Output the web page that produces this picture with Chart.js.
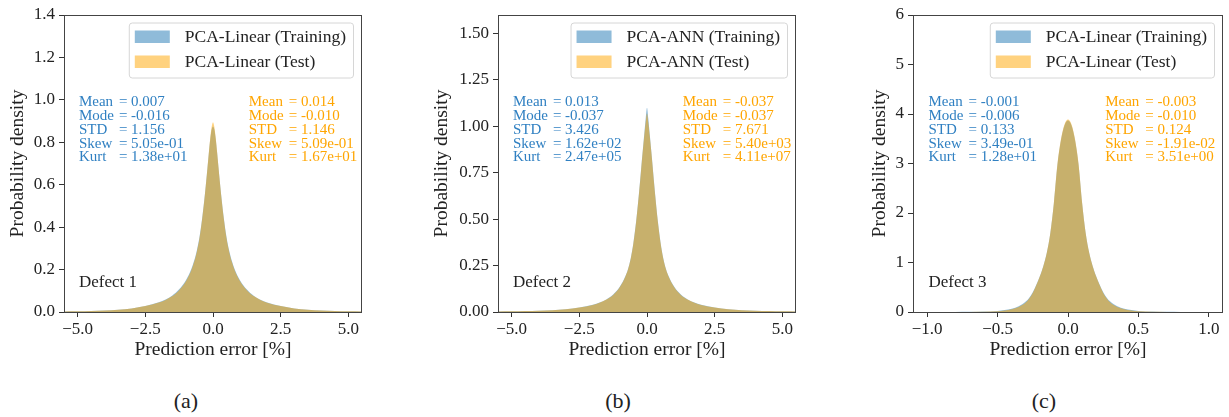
<!DOCTYPE html>
<html>
<head>
<meta charset="utf-8">
<script src="https://cdn.jsdelivr.net/npm/chart.js@4.4.0/dist/chart.umd.min.js"></script>
<style>
  body { margin: 0; background: #fff; width: 1229px; height: 417px; position: relative; overflow: hidden; font-family: 'Liberation Serif', serif; }
  canvas { position: absolute; top: 0; }
  .cap { position: absolute; top: 388px; width: 60px; margin-left: -30px; text-align: center; font-size: 22px; color: #222; }
</style>
</head>
<body>
<canvas id="chart-a" width="380" height="370" style="left:0"></canvas>
<canvas id="chart-b" width="400" height="370" style="left:420px"></canvas>
<canvas id="chart-c" width="369" height="370" style="left:860px"></canvas>
<div class="cap" style="left:186px">(a)</div>
<div class="cap" style="left:618px">(b)</div>
<div class="cap" style="left:1044px">(c)</div>
<script>
// Defect 1 - PCA-Linear
const errA = [-5.5, -5, -4.5, -4, -3.5, -3, -2.5, -2, -1.75, -1.5, -1.25, -1, -0.8, -0.7, -0.6, -0.5, -0.4, -0.3, -0.25, -0.2, -0.15, -0.1, -0.05, 0,
  0.05, 0.1, 0.15, 0.2, 0.25, 0.3, 0.4, 0.5, 0.6, 0.7, 0.8, 1, 1.25, 1.5, 1.75, 2, 2.5, 3, 3.5, 4, 4.5, 5, 5.5];
const trainA = [0.002, 0.003, 0.0045, 0.007, 0.011, 0.017, 0.028, 0.046, 0.059, 0.078, 0.107, 0.15, 0.203, 0.24, 0.288, 0.352, 0.442, 0.554, 0.618, 0.685, 0.753, 0.815, 0.86, 0.875,
  0.86, 0.815, 0.753, 0.685, 0.618, 0.554, 0.442, 0.352, 0.287, 0.239, 0.202, 0.149, 0.106, 0.077, 0.058, 0.045, 0.028, 0.017, 0.011, 0.007, 0.0045, 0.003, 0.002];
const testA = [0.002, 0.003, 0.0045, 0.007, 0.011, 0.017, 0.028, 0.045, 0.057, 0.075, 0.103, 0.145, 0.197, 0.234, 0.282, 0.346, 0.438, 0.552, 0.617, 0.686, 0.756, 0.822, 0.872, 0.895,
  0.872, 0.822, 0.756, 0.686, 0.617, 0.552, 0.438, 0.346, 0.282, 0.234, 0.197, 0.145, 0.103, 0.075, 0.057, 0.044, 0.028, 0.017, 0.011, 0.007, 0.0045, 0.003, 0.002];

// Defect 2 - PCA-ANN
const errB = [-5.5, -5, -4.5, -4, -3.5, -3, -2.5, -2, -1.75, -1.5, -1.25, -1, -0.8, -0.7, -0.6, -0.5, -0.4, -0.3, -0.25, -0.2, -0.15, -0.1, -0.05, 0,
  0.05, 0.1, 0.15, 0.2, 0.25, 0.3, 0.4, 0.5, 0.6, 0.7, 0.8, 1, 1.25, 1.5, 1.75, 2, 2.5, 3, 3.5, 4, 4.5, 5, 5.5];
const trainB = [0.0025, 0.0035, 0.005, 0.007, 0.01, 0.015, 0.024, 0.039, 0.051, 0.068, 0.094, 0.137, 0.192, 0.232, 0.29, 0.375, 0.49, 0.635, 0.715, 0.8, 0.88, 0.96, 1.04, 1.1,
  1.04, 0.96, 0.88, 0.8, 0.715, 0.635, 0.49, 0.375, 0.29, 0.232, 0.192, 0.137, 0.094, 0.068, 0.051, 0.039, 0.024, 0.015, 0.01, 0.007, 0.005, 0.0035, 0.0025];
const testB = [0.0025, 0.0035, 0.005, 0.007, 0.01, 0.015, 0.024, 0.038, 0.05, 0.067, 0.092, 0.135, 0.19, 0.23, 0.287, 0.372, 0.486, 0.63, 0.71, 0.795, 0.875, 0.95, 1.02, 1.07,
  1.02, 0.95, 0.875, 0.795, 0.71, 0.63, 0.486, 0.372, 0.287, 0.23, 0.19, 0.135, 0.092, 0.067, 0.05, 0.038, 0.024, 0.015, 0.01, 0.007, 0.005, 0.0035, 0.0025];

// Defect 3 - PCA-Linear
const errC = [-1.1, -1, -0.9, -0.8, -0.7, -0.6, -0.5, -0.45, -0.4, -0.35, -0.3, -0.275, -0.25, -0.225, -0.2, -0.175, -0.15, -0.125, -0.1, -0.075, -0.05, -0.025, 0,
  0.025, 0.05, 0.075, 0.1, 0.125, 0.15, 0.175, 0.2, 0.225, 0.25, 0.275, 0.3, 0.35, 0.4, 0.45, 0.5, 0.6, 0.7, 0.8, 0.9, 1, 1.1];
const trainC = [0, 0.0005, 0.001, 0.002, 0.004, 0.008, 0.021, 0.038, 0.066, 0.116, 0.21, 0.29, 0.4, 0.55, 0.72, 0.93, 1.2, 1.6, 2.2, 2.97, 3.47, 3.77, 3.87,
  3.77, 3.47, 2.97, 2.2, 1.6, 1.2, 0.93, 0.72, 0.55, 0.4, 0.29, 0.21, 0.116, 0.066, 0.038, 0.021, 0.008, 0.004, 0.002, 0.001, 0.0005, 0];
const testC = [0, 0, 0.0005, 0.001, 0.002, 0.005, 0.014, 0.028, 0.054, 0.1, 0.19, 0.275, 0.385, 0.54, 0.715, 0.925, 1.2, 1.6, 2.21, 2.99, 3.49, 3.79, 3.89,
  3.79, 3.49, 2.99, 2.21, 1.6, 1.2, 0.925, 0.715, 0.54, 0.385, 0.275, 0.19, 0.1, 0.054, 0.028, 0.014, 0.005, 0.002, 0.001, 0.0005, 0, 0];

const statLabels = ['Mean', 'Mode', 'STD', 'Skew', 'Kurt'];
const statsTrainA = ['0.007', '-0.016', '1.156', '5.05e-01', '1.38e+01'];
const statsTestA = ['0.014', '-0.010', '1.146', '5.09e-01', '1.67e+01'];
const statsTrainB = ['0.013', '-0.037', '3.426', '1.62e+02', '2.47e+05'];
const statsTestB = ['-0.037', '-0.037', '7.671', '5.40e+03', '4.11e+07'];
const statsTrainC = ['-0.001', '-0.006', '0.133', '3.49e-01', '1.28e+01'];
const statsTestC = ['-0.003', '-0.010', '0.124', '-1.91e-02', '3.51e+00'];

const FONT = "'Liberation Serif', serif";
const TEXT = '#222';
const BLUE_FILL = 'rgba(31, 119, 180, 0.5)';
const ORANGE_FILL = 'rgba(255, 165, 0, 0.5)';
const BLUE_TEXT = '#3080c2';
const ORANGE_TEXT = '#ffa500';

// Frame, legend box, stats text and defect label
const panelDecor = {
  id: 'panelDecor',
  afterDraw(chart, args, opts) {
    const { ctx, chartArea: a } = chart;
    ctx.save();

    // legend
    ctx.font = `17.5px ${FONT}`;
    const labels = chart.data.datasets.map((d) => d.label);
    const textW = Math.max(...labels.map((l) => ctx.measureText(l).width));
    const right = a.right - 9;
    const left = right - (6 + 35 + 15 + textW + 7);
    const top = a.top + 7.5;
    ctx.beginPath();
    ctx.roundRect(left + 0.5, top + 0.5, right - left, 55, 3);
    ctx.fillStyle = 'rgba(255,255,255,0.85)';
    ctx.fill();
    ctx.strokeStyle = '#d6d6d6';
    ctx.lineWidth = 1;
    ctx.stroke();
    const patches = ['#8fbbd9', '#ffd27f'];
    labels.forEach((l, i) => {
      const cy = a.top + 21.5 + i * 25;
      ctx.fillStyle = patches[i];
      ctx.fillRect(left + 6, cy - 6, 35, 12.5);
      ctx.fillStyle = TEXT;
      ctx.textBaseline = 'middle';
      ctx.textAlign = 'left';
      ctx.fillText(l, left + 56, cy + 1);
    });

    // statistics
    ctx.font = `15px ${FONT}`;
    const w = a.right - a.left;
    [[opts.train, 0.05, BLUE_TEXT], [opts.test, 0.62, ORANGE_TEXT]].forEach(([vals, fx, color]) => {
      const x0 = a.left + fx * w;
      ctx.fillStyle = color;
      vals.forEach((v, i) => {
        const y = a.top + 87.5 + i * 13.75;
        ctx.fillText(statLabels[i], x0, y);
        ctx.fillText('= ' + v, x0 + 40, y);
      });
    });

    // defect label
    ctx.font = `17px ${FONT}`;
    ctx.fillStyle = TEXT;
    ctx.fillText(opts.defect, a.left + 0.05 * w, a.bottom - 29.5);

    // axes frame
    ctx.strokeStyle = '#444';
    ctx.lineWidth = 1;
    ctx.strokeRect(Math.round(a.left) + 0.5, Math.round(a.top) + 0.5,
      Math.round(a.right - a.left) - 1, Math.round(a.bottom - a.top));
    ctx.restore();
  },
};

function makeChart(id, cfg) {
  const toPoints = (ys) => ys.map((y, i) => ({ x: cfg.xs[i], y }));
  const tickFont = { family: FONT, size: 17 };
  const titleFont = { family: FONT, size: 19.5 };
  // eslint-disable-next-line no-new
  new Chart(document.getElementById(id), {
    type: 'line',
    data: {
      datasets: [
        {
          label: `${cfg.model} (Training)`,
          data: toPoints(cfg.train),
          backgroundColor: BLUE_FILL,
          borderColor: 'rgba(0,0,0,0)',
          borderWidth: 0,
          fill: 'origin',
          pointRadius: 0,
          cubicInterpolationMode: 'monotone',
          order: 2,
        },
        {
          label: `${cfg.model} (Test)`,
          data: toPoints(cfg.test),
          backgroundColor: ORANGE_FILL,
          borderColor: 'rgba(0,0,0,0)',
          borderWidth: 0,
          fill: 'origin',
          pointRadius: 0,
          cubicInterpolationMode: 'monotone',
          order: 1,
        },
      ],
    },
    options: {
      responsive: false,
      animation: false,
      layout: { padding: { left: 0, top: cfg.top, right: cfg.right, bottom: 0 } },
      plugins: {
        legend: { display: false },
        tooltip: { enabled: false },
        panelDecor: { train: cfg.statsTrain, test: cfg.statsTest, defect: cfg.defect },
      },
      scales: {
        x: {
          type: 'linear',
          min: cfg.xMin,
          max: cfg.xMax,
          border: { display: false },
          grid: { display: true, drawOnChartArea: false, drawTicks: true, tickLength: 5, tickColor: '#333' },
          ticks: {
            stepSize: cfg.xStep,
            includeBounds: false,
            maxRotation: 0,
            padding: 2,
            color: TEXT,
            font: tickFont,
            callback: (v) => v.toFixed(1).replace('-', '\u2212'),
          },
          title: { display: true, text: 'Prediction error [%]', color: TEXT, font: titleFont, padding: { top: 0, bottom: 8 } },
          afterFit: (s) => { s.height = 58; },
        },
        y: {
          min: 0,
          max: cfg.yMax,
          border: { display: false },
          grid: { display: true, drawOnChartArea: false, drawTicks: true, tickLength: 5, tickColor: '#333' },
          ticks: {
            stepSize: cfg.yStep,
            includeBounds: false,
            padding: 4,
            color: TEXT,
            font: tickFont,
            callback: (v) => v.toFixed(cfg.yDec),
          },
          title: { display: true, text: 'Probability density', color: TEXT, font: titleFont, padding: { top: cfg.yTitlePad, bottom: 0 } },
          afterFit: (s) => { s.width = cfg.yWidth; },
        },
      },
    },
    plugins: [panelDecor],
  });
}

makeChart('chart-a', {
  xs: errA, train: trainA, test: testA, model: 'PCA-Linear',
  statsTrain: statsTrainA, statsTest: statsTestA, defect: 'Defect 1',
  xMin: -5.5, xMax: 5.5, xStep: 2.5, yMax: 1.4, yStep: 0.2, yDec: 1,
  yWidth: 64, yTitlePad: 6, top: 15, right: 18,
});

makeChart('chart-b', {
  xs: errB, train: trainB, test: testB, model: 'PCA-ANN',
  statsTrain: statsTrainB, statsTest: statsTestB, defect: 'Defect 2',
  xMin: -5.5, xMax: 5.5, xStep: 2.5, yMax: 1.6, yStep: 0.25, yDec: 2,
  yWidth: 78, yTitlePad: 10, top: 15, right: 24,
});

makeChart('chart-c', {
  xs: errC, train: trainC, test: testC, model: 'PCA-Linear',
  statsTrain: statsTrainC, statsTest: statsTestC, defect: 'Defect 3',
  xMin: -1.1, xMax: 1.1, xStep: 0.5, yMax: 6, yStep: 1, yDec: 0,
  yWidth: 53, yTitlePad: 8, top: 15, right: 6,
});
</script>
</body>
</html>
